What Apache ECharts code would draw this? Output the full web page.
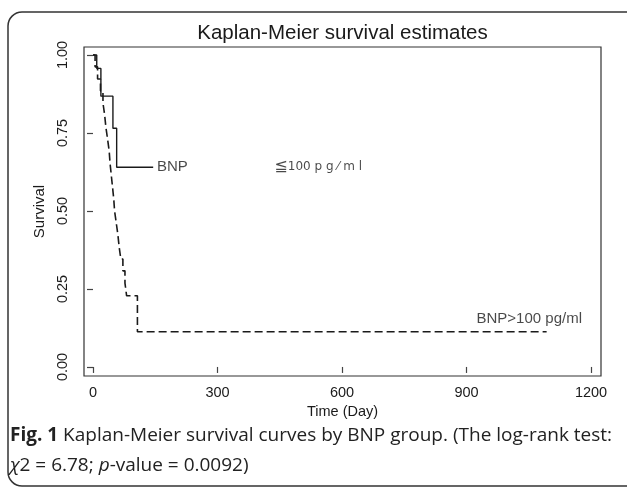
<!DOCTYPE html>
<html><head><meta charset="utf-8">
<script src="https://cdn.jsdelivr.net/npm/echarts@6/dist/echarts.min.js"></script>
<style>html,body{margin:0;padding:0;background:#fff}#c{width:627px;height:490px}</style>
</head><body><div id="c"></div>
<script>
// BNP <= 100 pg/ml (solid)
const lowDays = [0, 9, 19, 48, 57, 145];
const lowSurv = [1.0, 0.957, 0.868, 0.765, 0.640, 0.640];
// BNP > 100 pg/ml (dashed)
const highDays = [0, 5, 11, 18, 24, 28, 31, 35, 39, 41, 44, 47, 50, 52, 56, 60, 63, 67, 72, 77, 81, 107, 1093];
const highSurv = [1.0, 0.962, 0.923, 0.885, 0.846, 0.808, 0.769, 0.731, 0.692, 0.654, 0.615, 0.577, 0.538, 0.500, 0.462, 0.423, 0.385, 0.346, 0.308, 0.269, 0.228, 0.113, 0.113];
const xTicks = [0, 300, 600, 900, 1200];
const yTicks = [0, 0.25, 0.5, 0.75, 1.0];

const chart = echarts.init(document.getElementById('c'), null, {renderer: 'canvas'});
const F = 'Liberation Sans';
const ink = '#1a1a1a';
const zip = (a, b) => a.map((v, i) => [v, b[i]]);

chart.setOption({
  animation: false,
  backgroundColor: '#fff',
  grid: {left: 84, top: 47, right: 26, bottom: 114, show: true, borderColor: '#333', borderWidth: 1.2},
  xAxis: {
    type: 'value', min: -21.7, max: 1224,
    name: 'Time (Day)', nameLocation: 'middle', nameGap: 24,
    nameTextStyle: {fontFamily: F, fontSize: 14.5, color: ink},
    axisLine: {show: false}, splitLine: {show: false},
    axisTick: {show: true, inside: false, length: 6, customValues: xTicks, lineStyle: {color: '#444', width: 1.2}},
    axisLabel: {customValues: xTicks, fontFamily: F, fontSize: 14.5, color: ink, margin: 9,
      formatter: v => String(v)}
  },
  yAxis: {
    type: 'value', min: -0.029, max: 1.0256,
    name: 'Survival', nameLocation: 'middle', nameGap: 34, nameRotate: 90,
    nameTextStyle: {fontFamily: F, fontSize: 15, color: ink},
    axisLine: {show: false}, splitLine: {show: false},
    axisTick: {show: true, inside: false, length: 6, customValues: yTicks, lineStyle: {color: '#444', width: 1.2}},
    axisLabel: {customValues: yTicks, rotate: 90, fontFamily: F, fontSize: 14.5, color: ink, margin: 14,
      formatter: v => v.toFixed(2)}
  },
  series: [
    {type: 'line', step: 'end', symbol: 'none', data: zip(lowDays, lowSurv),
     lineStyle: {color: ink, width: 1.4}},
    {type: 'line', step: 'end', symbol: 'none', data: zip(highDays, highSurv),
     lineStyle: {color: ink, width: 1.6, type: [8, 4]}},
    {type: 'scatter', symbolSize: 0, silent: true,
     data: [
       {value: [154, 0.64], label: {formatter: 'BNP'}},
       {value: [437, 0.64], label: {formatter: '{s|≦}{n|100 p g ⁄ m l}'}},
       {value: [924, 0.154], label: {formatter: 'BNP>100 pg/ml'}}
     ],
     label: {show: true, position: 'right', distance: 0, fontFamily: F, fontSize: 15, color: ink,
       rich: {
         s: {fontFamily: 'DejaVu Sans', fontSize: 16, color: ink},
         n: {fontFamily: 'DejaVu Sans', fontSize: 12, color: ink}
       }}}
  ],
  graphic: [
    {type: 'rect', shape: {x: 8, y: 12, width: 660, height: 474, r: 14},
     style: {fill: 'none', stroke: '#333', lineWidth: 1.5}, silent: true},
    {type: 'text', x: 342.5, y: 33,
     style: {text: 'Kaplan-Meier survival estimates', font: '20.5px "Liberation Sans"', fill: ink,
             textAlign: 'center', textVerticalAlign: 'middle'}},
    {type: 'text', x: 10, y: 436,
     style: {text: '{b|Fig. 1} Kaplan-Meier survival curves by BNP group. (The log-rank test:',
             font: '19px "Open Sans"', fill: '#222', textVerticalAlign: 'middle',
             rich: {b: {fontWeight: 'bold', fontFamily: 'Open Sans', fontSize: 19, fill: '#222'}}}},
    {type: 'text', x: 10, y: 466,
     style: {text: '{i|χ}2 = 6.78; {i|p}-value = 0.0092)',
             font: '19px "Open Sans"', fill: '#222', textVerticalAlign: 'middle',
             rich: {i: {fontStyle: 'italic', fontFamily: 'Open Sans', fontSize: 19, fill: '#222'}}}}
  ]
});
</script></body></html>
